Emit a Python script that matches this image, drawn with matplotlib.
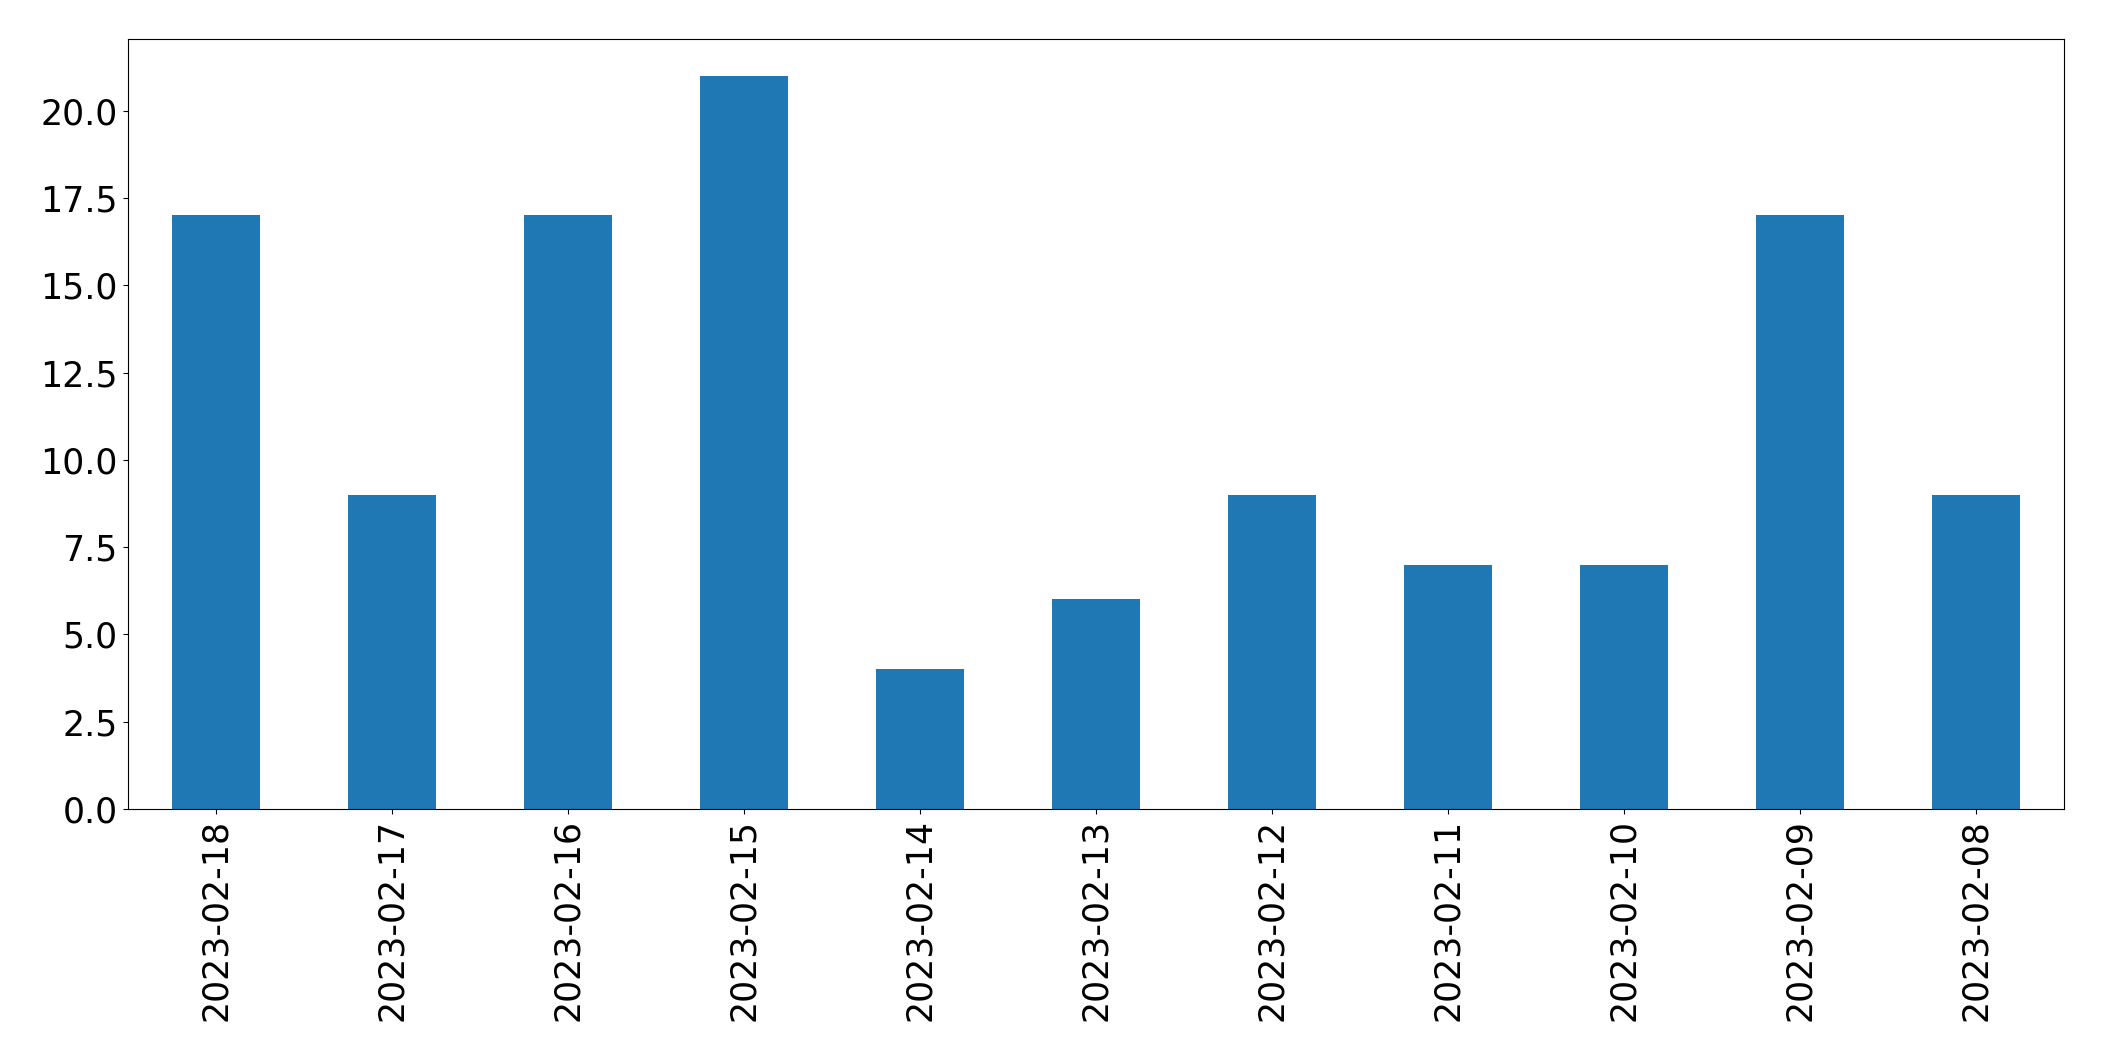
import numpy as np
import pandas as pd
import matplotlib
matplotlib.use('Agg')
import matplotlib.pyplot as plt

dates = ['2023-02-18', '2023-02-17', '2023-02-16', '2023-02-15', '2023-02-14', '2023-02-13',
         '2023-02-12', '2023-02-11', '2023-02-10', '2023-02-09', '2023-02-08']
counts = [17, 9, 17, 21, 4, 6, 9, 7, 7, 17, 9]

s = pd.Series(counts, index=dates)

fig = plt.figure(figsize=(21.04, 10.61), dpi=100)
ax = fig.add_axes([0.0606, 0.2375, 0.9204, 0.7257])
s.plot(kind='bar', ax=ax, color='#1f77b4')
ax.tick_params(axis='both', labelsize=25)
plt.setp(ax.get_xticklabels(), rotation=90)

fig.savefig('out.png', dpi=100)
